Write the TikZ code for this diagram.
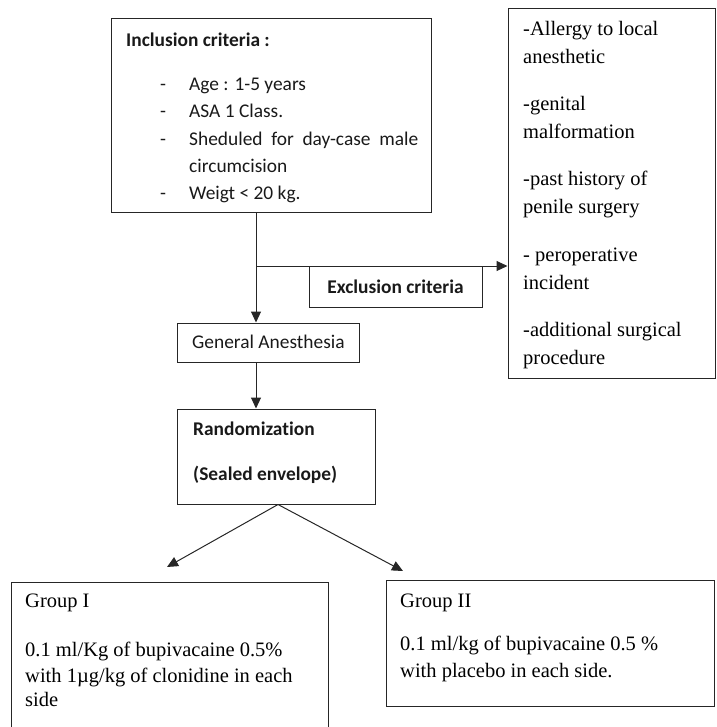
\documentclass[tikz,border=0pt]{standalone}
\usepackage{fontspec}
\setmainfont{Liberation Serif}
\newfontfamily\calibri[Ligatures=NoCommon]{Carlito}
\usetikzlibrary{arrows.meta}

\tikzset{
  box/.style={draw=black!85, line width=1pt, rectangle, inner sep=0pt},
  sanstxt/.style={font=\calibri\fontsize{19.4}{24}\selectfont, text=black!90, inner sep=0pt},
  seriftxt/.style={font=\fontsize{20.5}{25}\selectfont, text=black, inner sep=0pt},
  arr/.style={draw=black!85, line width=1pt, -{Triangle[length=11pt,width=10pt]}}
}

\begin{document}
\begin{tikzpicture}[x=1pt,y=-1pt]
\useasboundingbox (0,0) rectangle (716,727);

\node [box,minimum width=320pt,minimum height=194pt] (incl) at (271,116) {}; %Inclusion box
\node [sanstxt,anchor=base west] (inclhead) at (126,47) {\textbf{Inclusion criteria :}};
\foreach \txt/\yy/\dsh [count=\i] in {Age : 1-5 years/91/1, ASA 1 Class./118/1,
    \makebox[229pt][s]{Sheduled for day-case male}/146/1, circumcision/173/0, Weigt < 20 kg./200/1}
{
  \node [sanstxt,anchor=base west] (incl\i) at (189,\yy) {\txt};
  \ifnum\dsh=1 \node [sanstxt,anchor=base west] at (160,\yy) {-}; \fi
}

\node [box,minimum width=207pt,minimum height=369pt] (exlist) at (611.5,193.5) {}; %Exclusion list
\foreach \a/\b [count=\i from 0] in {-Allergy to local/anesthetic, -genital/malformation,
    -past history of/penile surgery, - peroperative/incident, -additional surgical/procedure}
{
  \node [seriftxt,anchor=base west] (exa\i) at (523,36+75*\i) {\a};
  \node [seriftxt,anchor=base west] (exb\i) at (523,64+75*\i) {\b};
}

\node [box,minimum width=173pt,minimum height=41pt] (excl) at (395.5,286.5) {}; %Exclusion label
\node [sanstxt] (excltxt) at (excl) {\textbf{Exclusion criteria}};

\node [box,minimum width=182pt,minimum height=39pt] (gen) at (268,342.5) {}; %General anesthesia
\node [sanstxt,anchor=base west] (gentxt) at (192,348) {General Anesthesia};

\node [box,minimum width=198pt,minimum height=95pt] (rand) at (276,456.5) {}; %Randomization
\node [sanstxt,anchor=base west] (randa) at (193,435) {\textbf{Randomization}};
\node [sanstxt,anchor=base west] (randb) at (193,480) {\textbf{(Sealed envelope)}};

\node [box,minimum width=317pt,minimum height=160pt] (g1) at (169.5,662) {}; %Group I
\node [seriftxt,anchor=base west] (g1a) at (25,607) {Group I};
\node [seriftxt,anchor=base west] (g1b) at (25,656) {0.1 ml/Kg of bupivacaine 0.5\%};
\node [seriftxt,anchor=base west] (g1c) at (25,682) {with 1µg/kg of clonidine in each};
\node [seriftxt,anchor=base west] (g1d) at (25,706) {side};

\node [box,minimum width=328pt,minimum height=126pt] (g2) at (550,643) {}; %Group II
\node [seriftxt,anchor=base west] (g2a) at (400,607) {Group II};
\node [seriftxt,anchor=base west] (g2b) at (400,650) {0.1 ml/kg of bupivacaine 0.5 \%};
\node [seriftxt,anchor=base west] (g2c) at (400,677) {with placebo in each side.};

\coordinate (split) at (256,266);
\coordinate (tip1) at (167,567);
\coordinate (tip2) at (403,571);
\draw [draw=black!85,line width=1pt] (split |- incl.south) -- (split);
\draw [arr] (split) -- (split |- gen.north);
\draw [arr] (split) -- (split -| exlist.west);
\draw [arr] (split |- gen.south) -- (split |- rand.north);
\draw [arr] ([xshift=2pt]rand.south) -- (tip1);
\draw [arr] ([xshift=2pt]rand.south) -- (tip2);

\end{tikzpicture}
\end{document}
